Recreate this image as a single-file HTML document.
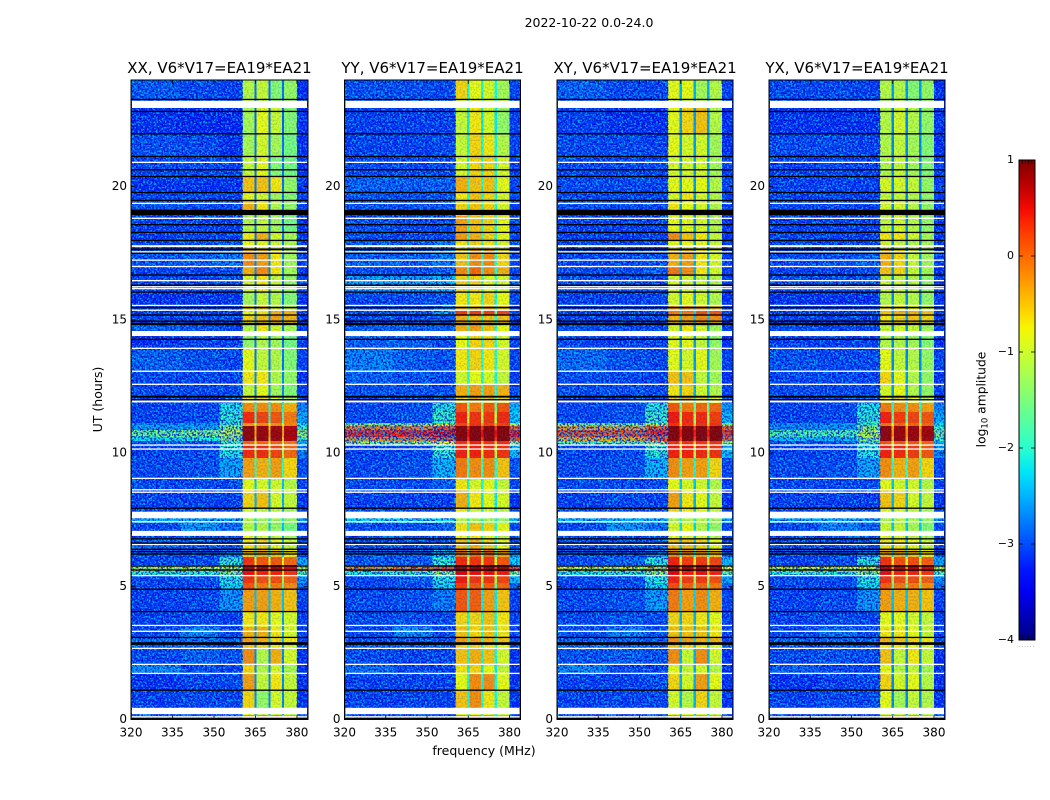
<!DOCTYPE html>
<html lang="en"><head><meta charset="utf-8"><title>2022-10-22 amplitude waterfall</title>
<style>
html,body{margin:0;padding:0;background:#fff;width:1050px;height:800px;overflow:hidden}
svg{display:block;font-family:"DejaVu Sans","Liberation Sans",sans-serif;fill:#000}
</style></head>
<body>
<svg id="fig" width="1050" height="800" viewBox="0 0 1050 800" xmlns="http://www.w3.org/2000/svg">
<defs>
<filter id="speckLight" x="0" y="0" width="100%" height="100%" color-interpolation-filters="sRGB">
<feTurbulence type="fractalNoise" baseFrequency="0.55" numOctaves="1" seed="7"/>
<feColorMatrix type="matrix" values="0 0 0 0 0  0 0 0 0 0.8  0 0 0 0 1  7 0 0 0 -3.3"/>
</filter>
<filter id="speckDark" x="0" y="0" width="100%" height="100%" color-interpolation-filters="sRGB">
<feTurbulence type="fractalNoise" baseFrequency="0.55" numOctaves="1" seed="23"/>
<feColorMatrix type="matrix" values="0 0 0 0 0  0 0 0 0 0  0 0 0 0 0.75  0 7 0 0 -3.3"/>
</filter>
<linearGradient id="jet-gradient" x1="0" y1="1" x2="0" y2="0"></linearGradient>
</defs>
<text x="589" y="27" font-size="12.5" text-anchor="middle">2022-10-22 0.0-24.0</text>
<text x="484" y="755" font-size="12.5" text-anchor="middle">frequency (MHz)</text>
<text x="0" y="0" font-size="12.5" text-anchor="middle" transform="translate(102,399.5) rotate(-90)">UT (hours)</text>
<text x="0" y="0" font-size="12.3" text-anchor="middle" transform="translate(985.5,399.5) rotate(-90)">log<tspan font-size="8.5" dy="2">10</tspan><tspan dy="-2"> amplitude</tspan></text>
</svg>
<script>
// Axis tick values
const freqTicks = [320, 335, 350, 365, 380];
const timeTicks = [0, 5, 10, 15, 20];
const colorTicks = [1, 0, -1, -2, -3, -4];
const panelTitles = ['XX, V6*V17=EA19*EA21', 'YY, V6*V17=EA19*EA21', 'XY, V6*V17=EA19*EA21', 'YX, V6*V17=EA19*EA21'];

// Frequency edges (MHz) of the heatmap columns
const freqEdges = [320, 338, 352, 360.4, 364.6, 365.4, 369.7, 370.5, 374.6, 375.4, 380, 384];

// Time edges (UT hours) of the heatmap rows, top to bottom
const timeEdges = [24, 23.25, 22.95, 22.01, 21.15, 20.39, 19.79, 19.49, 19.16, 18.89, 18.29, 17.99, 17.62, 17.02, 16.64, 16.04, 15.55, 15.37, 15.18, 14.92, 14.8, 14.58, 14.39, 13.94, 13.08, 12.59, 12.14, 11.88, 11.54, 11.13, 11.01, 10.86, 10.6, 10.45, 10.3, 9.81, 9.06, 8.61, 7.94, 7.56, 7.37, 7.07, 6.81, 6.4, 6.1, 5.8, 5.57, 5.38, 5.12, 4.9, 4.03, 3.47, 3.1, 2.8, 2.68, 2.08, 1.74, 1.11, 0.43, 0.17, 0];

// Flagged times: [start, end] in UT hours
const whiteFlags = [[23.22,22.95],[20.935,20.885],[19.395,19.345],[18.835,18.785],[17.8,17.73],[17.575,17.525],[17.265,17.215],[17.025,16.975],[16.495,16.445],[16.265,16.215],[16.195,16.145],[15.565,15.515],[15.385,15.335],[14.58,14.39],[13.955,13.905],[13.095,13.045],[12.605,12.555],[11.97,11.9],[10.325,10.275],[10.175,10.125],[9.075,9.025],[8.645,8.595],[8.555,8.505],[7.8,7.55],[7.445,7.395],[7.08,6.89],[6.595,6.545],[5.425,5.375],[3.555,3.505],[3.335,3.285],[2.695,2.645],[2.095,2.045],[1.755,1.705],[0.44,0.2],[0.125,0.075]];
const blackFlags = [[23.295,23.245],[22.845,22.795],[22.005,21.955],[21.155,21.105],[20.655,20.605],[20.405,20.355],[19.805,19.755],[19.505,19.455],[19.13,18.93],[18.595,18.545],[18.305,18.255],[18.005,17.955],[17.68,17.61],[17.525,17.475],[16.705,16.655],[16.325,16.275],[16.065,16.015],[15.49,15.43],[15.205,15.155],[14.975,14.925],[14.89,14.8],[14.295,14.245],[12.15,12.08],[12.025,11.975],[7.955,7.905],[6.805,6.755],[6.645,6.595],[6.415,6.365],[6.325,6.275],[6.235,6.185],[5.785,5.735],[5.635,5.585],[4.915,4.865],[4.075,4.025],[3.105,3.055],[2.9,2.8],[1.125,1.075],[0.06,0]];

// log10 amplitude per row: [bg 320-338, bg 338-352, shoulder 352-360, band1, band2, band3, band4, bg 380-384, band gaps]
const seriesXX = [
[-2.95,-3.05,-3.1,-1.1,-1,-1.4,-1.3,-3.2,-2.8],[-3.05,-3.05,-3.1,-1.1,-1,-1.3,-1.3,-3.2,-2.8],[-3.2,-3.25,-3.25,-1.2,-.8,-1,-1.4,-3.2,-2.9],[-3,-3.05,-3.2,-1.2,-.9,-1.2,-1.5,-3.2,-2.8],[-3.05,-3.05,-3.1,-1,-.8,-1.4,-1.5,-3.2,-2.8],[-3.2,-3.2,-3.2,-.5,-.5,-.7,-1.3,-3.2,-2.8],[-3.1,-3.05,-3.1,-.8,-.9,-1.2,-1.4,-3.1,-2.8],[-3,-3.05,-3.05,-.4,-.7,-1.1,-1.3,-3.1,-2.8],[-3.1,-3.1,-3.1,-1,-1,-1.1,-1.3,-3.1,-2.8],[-3.1,-3.1,-3.1,-1.1,-1,-1.2,-1.5,-3.2,-2.8],
[-3.1,-3.1,-3.1,-.7,-.4,-.9,-1.2,-3.2,-2.8],[-3.05,-3,-3,-.8,-.8,-1,-1.2,-3.1,-2.8],[-3,-2.9,-2.75,-.2,-.3,-.7,-1.2,-3.1,-2.7],[-3.1,-3.1,-3.05,-.4,-.2,-.7,-1.2,-3.2,-2.7],[-3.05,-3.05,-3,-.9,-.7,-1,-1.3,-3.1,-2.8],[-3.2,-3.2,-3.2,-1.2,-1,-1.1,-1.4,-3.2,-2.8],[-3.1,-3.1,-3.1,-.6,-.5,-.9,-1,-3.1,-2.7],[-3.1,-3.1,-3.1,-.8,-.7,-.4,-.4,-3.1,-2.7],[-3.1,-3.1,-3.05,-.6,-.5,-.3,-.4,-3.1,-2.7],[-3.1,-3.1,-3.05,-.7,-.5,-.5,-.6,-3.1,-2.7],
[-2.9,-3,-3.05,-1.1,-.7,-.9,-1.2,-3.1,-2.8],[-3,-3,-3.05,-1.1,-.8,-1,-1.2,-3.1,-2.8],[-3.2,-3.1,-3.1,-1.3,-1.1,-1.2,-1.5,-3.2,-2.8],[-2.9,-3,-3.05,-.8,-1,-1.1,-1.4,-3.1,-2.8],[-3.05,-3.05,-3.1,-.7,-.7,-1.1,-1.3,-3.2,-2.7],[-3.05,-3.05,-3.05,-1,-.8,-1.2,-1.4,-3.1,-2.7],[-3.05,-3,-2.9,-.7,-.6,-.9,-1.1,-3.1,-2.6],[-3.1,-3.05,-2.1,-.2,-.2,-.2,-.4,-2.7,-2.1],[-3.1,-3.05,-1.9,.35,.2,.1,-.1,-2.5,-1.8],[-2.6,-2.6,-1.7,-.3,-.2,-.2,-.2,-2.2,-1],
[-2.6,-2.5,-1.3,.9,.85,.8,.75,-1.9,-.5],[-1.5,-1.4,-1,.9,.85,.85,.8,-1.3,-.3],[-2.2,-2.1,-1.2,.9,.85,.8,.75,-1.8,-.5],[-3,-3,-1.9,0,0,0,-.1,-2.5,-1],[-3.1,-3.05,-2,.35,.35,.2,0,-2.7,-1.2],[-3.05,-3,-2.5,-.3,-.4,-.3,-.6,-3.05,-1.9],[-3.05,-3.05,-3.05,-.8,-.9,-.9,-1.1,-3.1,-2.4],[-3.1,-3.1,-3.1,-.6,-.5,-.9,-1,-3.2,-2.5],[-3.1,-3.1,-3.1,-.9,-1,-1,-1.2,-3.1,-2.5],[-2.45,-2.45,-2.55,-1.1,-1.2,-1.2,-1.3,-2.6,-2.2],
[-3.05,-2.55,-2.8,-1.1,-1.1,-1.3,-1.5,-3.05,-2.4],[-3.05,-3,-3,-.8,-.9,-1,-1.2,-3.1,-2.5],[-2.9,-3,-3,-.7,-.6,-.8,-1,-3.05,-2.5],[-3,-3,-2.75,-.5,-.4,-.5,-.7,-3.05,-2.3],[-3.1,-3.05,-1.9,.3,.1,.1,0,-2.5,-.8],[-1,-1,-.9,.85,.85,.85,.6,-1,-.2],[-1.9,-1.9,-1.3,.5,.4,.4,.3,-1.7,-.6],[-3.05,-3,-2,.3,.15,.15,.05,-2.6,-1.2],[-3.1,-3.1,-2.2,.1,-.1,-.1,-.2,-2.9,-1.6],[-3.1,-3.05,-2.6,-.3,-.3,-.4,-.5,-3.1,-2.4],
[-3.1,-3.05,-3.1,-.7,-.7,-.8,-.9,-3.1,-2.6],[-3.05,-2.65,-3.05,-.4,-.4,-.7,-.9,-3.1,-2.6],[-2.8,-2.8,-2.9,-.3,-.4,-.6,-.7,-3.05,-2.4],[-2.9,-2.9,-3,-.5,-.6,-.7,-.9,-3.05,-2.6],[-3.05,-2.9,-3,-.2,-1.1,-.4,-.9,-3.2,-2.7],[-2.65,-3.05,-3.1,-.6,-1.1,-.9,-1.2,-3.2,-2.7],[-3.2,-3.1,-3.05,-.3,-1,-.7,-1,-3.2,-2.7],[-3.1,-3.05,-3.05,-.6,-1.3,-.9,-1,-3.2,-2.7],[-3.1,-3.1,-3.1,-.8,-1,-1,-1,-3.1,-2.7],[-2.8,-2.8,-2.8,-.2,-.2,-.2,-.4,-3,-2]
];
const seriesYY = [
[-3,-3,-3.05,-.6,-.8,-.9,-1.2,-3.1,-2.1],[-3,-3,-3.05,-.9,-.8,-.9,-1.1,-3.1,-2.1],[-3.1,-3.1,-3.1,-1,-.7,-.9,-1.3,-3.1,-2.2],[-3.1,-3.1,-3.05,-1,-.6,-.7,-1.1,-3.1,-2.1],[-3.05,-3.05,-3.05,-.9,-.6,-.6,-.9,-3.1,-2.1],[-2.9,-2.9,-2.9,-.4,-.5,-.5,-.8,-3.1,-2],[-3,-3,-3,-.7,-.5,-.6,-.9,-3.1,-2.1],[-3,-3,-3,-.6,-.5,-.6,-.9,-3.1,-2],[-3.05,-3.05,-3.05,-.8,-.7,-.8,-1,-3.1,-2.1],[-3,-3.05,-3.05,-.3,-.5,-.6,-.8,-3.1,-2],
[-3.05,-3.05,-3.05,-.3,-.4,-.6,-.8,-3.1,-2],[-2.9,-2.9,-2.75,-.7,-.6,-.7,-.9,-3.05,-2],[-2.9,-2.9,-2.75,-.5,-.2,-.2,-.6,-3.05,-2],[-3.05,-3.05,-2.9,-.2,0,-.2,-.4,-3.1,-2],[-2.55,-2.55,-2.4,-.6,-.6,-.8,-.9,-2.9,-1.9],[-3.05,-3.05,-3.05,-.7,-.7,-.6,-.8,-3.1,-2.1],[-3,-3,-2.75,-.5,-.5,-.4,-.6,-3.1,-2],[-3.05,-3,-2.55,.25,.25,.25,.2,-3,-1.6],[-3.05,-3.05,-2.9,-.4,-.5,-.5,-.5,-3.1,-2],[-3.05,-3.05,-2.9,-.4,-.4,-.4,-.5,-3.1,-2],
[-2.9,-2.9,-2.9,-.4,-.3,-.5,-.8,-3.05,-2],[-2.9,-2.9,-2.9,-.5,-.5,-.6,-.8,-3.1,-2],[-2.9,-2.9,-3.05,-.8,-.6,-.6,-.9,-3.1,-2],[-2.7,-2.9,-3,-.7,-.6,-.7,-.9,-3.1,-2],[-2.9,-3,-3.05,-.9,-.8,-.9,-1,-3.1,-2.1],[-3,-3,-3,-.4,-.3,-.3,-.4,-3.05,-2],[-3.05,-3,-2.75,-.6,-.4,-.5,-.6,-2.9,-1.8],[-3.05,-3,-2,.1,-.1,.1,.1,-2.4,-1.4],[-3.05,-3,-1.8,.4,.3,.3,.35,-2.3,-1],[-1.3,-1.3,-.8,.2,.3,.2,.2,-1,-.4],
[-.1,-.1,.2,.95,.95,.95,.95,.1,.3],[.4,.4,.6,.95,.95,.95,.95,.5,.5],[-.2,-.1,.2,.95,.95,.95,.95,.2,.3],[-1.3,-1.3,-.8,.3,.4,.3,.3,-1.2,-.5],[-3.1,-3.05,-1.9,.4,.4,.35,.3,-2.4,-1],[-3.05,-3,-2.4,-.1,-.2,-.2,-.5,-3,-1.9],[-3.05,-3.05,-2.9,-.7,-.9,-.8,-1,-3.1,-2.1],[-3.1,-3.1,-3.1,-.4,-.7,-.8,-.9,-3.2,-2.2],[-3.05,-3.05,-3.05,-.7,-.9,-.9,-1.1,-3.1,-2.2],[-2.2,-2.2,-2.2,-1.1,-1.2,-1.2,-1.3,-2.4,-2],
[-3.05,-3,-2.9,-.7,-.5,-.6,-.8,-3.05,-2.1],[-3.05,-3.05,-3.05,-.8,-.7,-.8,-1,-3.1,-2.1],[-3,-3,-2.9,-.5,-.4,-.6,-.8,-3.05,-2],[-2.9,-2.9,-2.3,-.1,0,0,-.3,-2.6,-1.7],[-3,-2.9,-1.9,.35,.3,.3,.1,-2.3,-.9],[-.2,-.1,.2,.95,.95,.95,.9,.25,.3],[-2,-1.9,-1.2,.6,.5,.5,.45,-1.5,-.4],[-3.05,-2.9,-2,.45,.3,.3,.2,-2.4,-1.1],[-3.1,-3.05,-2.2,.25,.1,.05,0,-2.9,-1.7],[-3.05,-3,-2.75,.1,.05,-.3,-.5,-3.1,-2.2],
[-3.05,-3,-3.05,-.6,-.6,-.5,-.7,-3.1,-2.1],[-3.05,-2.65,-3.05,-.5,-.6,-.5,-.7,-3.1,-2.1],[-3,-3,-3,-.3,-.3,-.4,-.5,-3.05,-2],[-2.9,-2.9,-3,-.6,-.6,-.7,-.8,-3.1,-2.1],[-3.05,-3.05,-3.05,-.5,-.4,-.5,-.9,-3.2,-2.1],[-2.8,-3.05,-3.1,-.7,-.6,-.8,-1,-3.2,-2.2],[-3.1,-3.1,-3.1,-.8,-.2,-.2,-.8,-3.2,-2.1],[-3.1,-3.1,-3.1,-.5,-.2,-.7,-1,-3.2,-2.1],[-3.1,-3.1,-3.1,-.8,-.8,-.8,-.9,-3.1,-2.1],[-2.9,-2.9,-2.9,-.2,-.2,-.3,-.4,-3.05,-2]
];
const seriesXY = [
[-2.9,-3.05,-3.05,-.8,-.8,-1.2,-1.1,-3.1,-2.5],[-3,-3.05,-3.05,-1,-1,-1.2,-1.1,-3.1,-2.5],[-3.1,-3.2,-3.2,-.8,-.6,-.5,-1.1,-3.2,-2.6],[-3.05,-3.05,-3.1,-.8,-.9,-.9,-1.2,-3.2,-2.6],[-3.05,-3.05,-3.05,-.9,-.9,-.9,-1.2,-3.1,-2.6],[-3.05,-3.05,-3.1,-.8,-.8,-.8,-1.1,-3.1,-2.6],[-3.05,-3.05,-3.1,-.9,-.7,-.9,-1.1,-3.1,-2.6],[-3,-3.05,-3.05,-.7,-.8,-.9,-1.1,-3.1,-2.6],[-3.1,-3.1,-3.1,-.9,-.9,-1,-1.2,-3.1,-2.6],[-3.1,-3.1,-3.1,-.8,-.8,-.9,-1.1,-3.2,-2.6],
[-3.1,-3.1,-3.1,-.2,-.5,-.7,-1,-3.2,-2.6],[-3.05,-3.05,-3.05,-.8,-.8,-.8,-1,-3.1,-2.6],[-3.1,-3.05,-3,-.4,-.3,-.7,-.9,-3.1,-2.5],[-3.05,-3.05,-2.9,-.1,-.2,-.7,-.9,-3.1,-2.5],[-3,-3,-3,-.9,-.9,-1,-1.1,-3.1,-2.6],[-3.1,-3.1,-3.1,-.9,-.8,-.9,-1.1,-3.2,-2.6],[-3.1,-3.1,-3.1,-.3,-.2,-.3,-.5,-3.1,-2.4],[-3.1,-3.1,-3.05,-.1,-.1,.1,.1,-3.05,-2.3],[-3.1,-3.1,-3.1,-.4,-.3,-.2,-.2,-3.1,-2.4],[-3.1,-3.1,-3.05,-.5,-.4,-.4,-.5,-3.1,-2.4],
[-3,-3.05,-3.05,-.9,-.7,-.9,-1.2,-3.1,-2.6],[-3,-3.05,-3.05,-.9,-.8,-1,-1.2,-3.1,-2.6],[-3.05,-3.1,-3.1,-.8,-.8,-1,-1.3,-3.2,-2.6],[-2.8,-3,-3.05,-.8,-.9,-.8,-1.2,-3.1,-2.6],[-3,-3.05,-3.1,-.5,-.5,-1,-1.2,-3.2,-2.5],[-3,-3,-3.05,-.7,-.6,-.9,-1.1,-3.1,-2.5],[-3.05,-3.05,-2.9,-.6,-.4,-.6,-.8,-3,-2.2],[-3.05,-3,-2,.1,-.1,0,0,-2.6,-1.6],[-3.05,-3,-1.8,.45,.35,.35,.25,-2.4,-1.2],[-1.4,-1.3,-.9,.3,.3,.3,.3,-1.2,-.6],
[-.3,-.3,.1,.95,.95,.95,.95,.05,.2],[.15,.15,.4,.95,.95,.95,.95,.35,.45],[-.4,-.4,.1,.95,.95,.95,.95,.05,.2],[-1.6,-1.6,-1,.3,.3,.3,.3,-1.4,-.6],[-3.1,-3.05,-1.9,.4,.4,.35,.3,-2.4,-1.1],[-3.05,-3,-2.4,-.2,-.3,-.3,-.6,-3.05,-2],[-3.05,-3.05,-3,-.8,-.9,-.9,-1.1,-3.1,-2.4],[-3.1,-3.05,-3.1,-.3,-.7,-.8,-1,-3.2,-2.5],[-3.05,-3.05,-3.1,-.6,-.7,-.8,-1,-3.1,-2.4],[-2.4,-2.4,-2.4,-1.1,-1.1,-1.1,-1.2,-2.5,-2.1],
[-3.05,-2.55,-2.8,-.9,-.8,-1.1,-1.3,-3.05,-2.3],[-3.05,-3.05,-3.05,-.8,-.8,-.9,-1.1,-3.1,-2.4],[-3,-3,-3,-.5,-.5,-.6,-.8,-3.05,-2.4],[-3,-3,-2.65,-.2,-.2,-.3,-.5,-3,-2.1],[-3.05,-2.9,-1.9,.4,.25,.25,.2,-2.4,-.9],[-.8,-.8,-.6,.9,.9,.9,.8,-.8,-.1],[-2,-1.9,-1.2,.55,.45,.5,.4,-1.6,-.5],[-3.05,-3,-2,.4,.25,.25,.15,-2.5,-1.2],[-3.1,-3.05,-2.2,.15,0,0,-.1,-2.9,-1.7],[-3.05,-3,-2.55,-.1,-.3,-.2,-.4,-3.1,-2.3],
[-3.05,-3,-3.05,-.6,-.6,-.7,-.8,-3.1,-2.5],[-3.05,-2.7,-3,-.5,-.5,-.5,-.7,-3.1,-2.4],[-2.9,-2.9,-2.9,-.2,-.3,-.4,-.4,-3.05,-2.3],[-2.9,-2.9,-3,-.5,-.6,-.7,-.8,-3.05,-2.4],[-3,-2.9,-3,-.2,-1,-.2,-.9,-3.2,-2.5],[-2.65,-3.05,-3.1,-.8,-1,-.9,-1.1,-3.2,-2.5],[-3.1,-3.1,-3.05,-.6,-.9,-.3,-.8,-3.2,-2.5],[-3.1,-3.05,-3.05,-.9,-1.1,-.6,-1,-3.2,-2.5],[-3.1,-3.1,-3.1,-.8,-.9,-.9,-1,-3.1,-2.5],[-2.8,-2.8,-2.8,-.2,-.3,-.3,-.4,-3,-2]
];
const seriesYX = [
[-3.05,-3.05,-3.1,-1.1,-1.1,-1.4,-1.3,-3.2,-2.6],[-3.05,-3.05,-3.1,-1.1,-1.1,-1.4,-1.3,-3.2,-2.6],[-3.2,-3.2,-3.2,-1.1,-.9,-1.1,-1.3,-3.2,-2.7],[-3.05,-3.05,-3.1,-1.1,-1,-1.2,-1.4,-3.2,-2.7],[-3.1,-3.05,-3.1,-1.1,-1,-1.2,-1.4,-3.1,-2.7],[-3.1,-3.1,-3.1,-.9,-.9,-1,-1.3,-3.1,-2.7],[-3.1,-3.1,-3.1,-1,-1,-1.1,-1.3,-3.1,-2.7],[-3.05,-3.05,-3.1,-.9,-.9,-1.1,-1.3,-3.1,-2.7],[-3.1,-3.1,-3.1,-1,-1,-1.1,-1.3,-3.1,-2.7],[-3.1,-3.1,-3.1,-1,-.9,-1.1,-1.3,-3.2,-2.7],
[-3.1,-3.1,-3.1,-.7,-.7,-.9,-1.2,-3.2,-2.7],[-3.05,-3.05,-3.05,-.9,-1,-1.1,-1.2,-3.1,-2.7],[-3.05,-3,-2.9,-.4,-.6,-1,-1.2,-3.1,-2.6],[-3.1,-3.1,-3.05,-.5,-.6,-1,-1.2,-3.2,-2.6],[-3.05,-3.05,-3,-1,-1,-1.1,-1.3,-3.1,-2.7],[-3.2,-3.2,-3.2,-1.1,-1,-1.1,-1.3,-3.2,-2.7],[-3.1,-3.1,-3.1,-.7,-.7,-.8,-1,-3.1,-2.6],[-3.1,-3.1,-3.05,-.5,-.4,-.4,-.5,-3.1,-2.5],[-3.1,-3.1,-3.1,-.7,-.6,-.5,-.6,-3.1,-2.6],[-3.1,-3.1,-3.05,-.7,-.6,-.6,-.7,-3.1,-2.6],
[-3,-3.05,-3.05,-1,-.9,-1,-1.2,-3.1,-2.7],[-3,-3.05,-3.05,-1,-.9,-1,-1.2,-3.1,-2.7],[-3.1,-3.1,-3.1,-1.1,-1.1,-1.2,-1.4,-3.2,-2.7],[-3,-3.05,-3.05,-.8,-1,-1.1,-1.3,-3.1,-2.7],[-3.05,-3.05,-3.1,-.6,-.8,-1.1,-1.3,-3.2,-2.6],[-3.05,-3.05,-3.05,-.9,-.8,-1.1,-1.3,-3.1,-2.6],[-3.05,-3,-2.9,-.7,-.6,-.8,-1,-3.05,-2.4],[-3.1,-3.05,-2.1,-.1,-.2,-.2,-.3,-2.7,-2],[-3.1,-3.05,-1.9,.4,.25,.2,.1,-2.5,-1.6],[-2.7,-2.6,-1.7,-.1,0,0,0,-2.2,-.9],
[-2.7,-2.6,-1.3,.9,.85,.85,.8,-1.9,-.4],[-1.7,-1.7,-1.1,.9,.85,.85,.85,-1.5,-.2],[-2.4,-2.4,-1.3,.9,.85,.85,.8,-1.9,-.4],[-3,-3,-1.9,.1,.1,.1,0,-2.5,-1],[-3.1,-3.05,-2,.4,.35,.25,.1,-2.7,-1.2],[-3.05,-3,-2.5,-.2,-.4,-.3,-.6,-3.05,-1.9],[-3.05,-3.05,-3.05,-.8,-.9,-.9,-1.1,-3.1,-2.4],[-3.1,-3.1,-3.1,-.5,-.6,-.9,-1,-3.2,-2.5],[-3.1,-3.1,-3.1,-.8,-.9,-1,-1.2,-3.1,-2.5],[-2.45,-2.45,-2.55,-1.1,-1.1,-1.2,-1.3,-2.6,-2.2],
[-3.05,-2.7,-2.9,-1,-1,-1.2,-1.4,-3.05,-2.4],[-3.05,-3.05,-3.05,-.8,-.9,-1,-1.2,-3.1,-2.5],[-3,-3,-3,-.7,-.7,-.8,-1,-3.05,-2.5],[-3,-3,-2.75,-.4,-.4,-.5,-.7,-3.05,-2.3],[-3.1,-3.05,-1.9,.3,.15,.15,.05,-2.5,-.9],[-.9,-.9,-.8,.8,.8,.8,.65,-.9,-.2],[-1.9,-1.9,-1.3,.5,.4,.4,.3,-1.7,-.6],[-3.05,-3,-2,.3,.15,.15,.05,-2.6,-1.2],[-3.1,-3.1,-2.2,.05,-.1,-.1,-.2,-2.9,-1.7],[-3.1,-3.05,-2.6,-.3,-.4,-.4,-.5,-3.1,-2.4],
[-3.1,-3.05,-3.1,-.8,-.8,-.9,-1,-3.1,-2.6],[-3.05,-2.8,-3.05,-.7,-.7,-.8,-1,-3.1,-2.6],[-2.9,-2.9,-2.9,-.4,-.5,-.6,-.7,-3.05,-2.4],[-3,-3,-3,-.7,-.7,-.8,-.9,-3.05,-2.6],[-3.05,-3,-3,-.5,-1,-.7,-1,-3.2,-2.7],[-2.9,-3.05,-3.1,-.8,-1.1,-1,-1.2,-3.2,-2.7],[-3.2,-3.1,-3.05,-.6,-.9,-.8,-1.1,-3.2,-2.7],[-3.1,-3.05,-3.05,-.8,-1.2,-1,-1.1,-3.2,-2.7],[-3.1,-3.1,-3.1,-.9,-1,-1,-1.1,-3.1,-2.7],[-2.9,-2.9,-2.9,-.3,-.3,-.3,-.5,-3,-2.1]
];
const panelSeries = [seriesXX, seriesYY, seriesXY, seriesYX];

// Layout only below this line
const SVGNS = 'http://www.w3.org/2000/svg';
const fig = document.getElementById('fig');
const panelBoxes = [{l:131,r:308},{l:344.5,r:520.5},{l:557,r:733},{l:769,r:945}];
const plotTop = 80, plotBottom = 719.5;
const timeToY = h => plotBottom - (h / 24) * (plotBottom - plotTop);
const freqToX = (f, box) => box.l + (f - 320) / 64 * (box.r - box.l);
const columnPick = [0, 1, 2, 3, 8, 4, 8, 5, 8, 6, 7];

function jet(v) {
  const t = Math.max(0, Math.min(1, (v + 4) / 5));
  const lerp = (pts) => {
    for (let i = 1; i < pts.length; i++) {
      if (t <= pts[i][0]) {
        const a = pts[i - 1], b = pts[i];
        return a[1] + (b[1] - a[1]) * (t - a[0]) / (b[0] - a[0]);
      }
    }
    return pts[pts.length - 1][1];
  };
  const r = lerp([[0,0],[.35,0],[.66,1],[.89,1],[1,.5]]);
  const g = lerp([[0,0],[.125,0],[.375,1],[.64,1],[.91,0],[1,0]]);
  const b = lerp([[0,.5],[.11,1],[.34,1],[.65,0],[1,0]]);
  return 'rgb(' + Math.round(r * 255) + ',' + Math.round(g * 255) + ',' + Math.round(b * 255) + ')';
}
function mk(tag, attrs, parent) {
  const el = document.createElementNS(SVGNS, tag);
  for (const k in attrs) el.setAttribute(k, attrs[k]);
  (parent || fig).appendChild(el);
  return el;
}

panelSeries.forEach((rows, p) => {
  const box = panelBoxes[p];
  const g = mk('g', {});
  
  

  rows.forEach((row, r) => {
    const y0 = timeToY(timeEdges[r]), y1 = timeToY(timeEdges[r + 1]);
    columnPick.forEach((valueIndex, c) => {
      const x0 = freqToX(freqEdges[c], box), x1 = freqToX(freqEdges[c + 1], box);
      const cell = mk('rect', {x: x0, y: y0, width: x1 - x0, height: y1 - y0, fill: jet(row[valueIndex]), 'shape-rendering': 'crispEdges'}, g);
      
      
    });
  });

  // fine-grain visual texture (decorative, carries no data)
  [[320, 360.4, 0.75], [380, 384, 0.6], [360.4, 380, 0.12]].forEach(range => {
    const x0 = freqToX(range[0], box), x1 = freqToX(range[1], box);
    ['url(#speckLight)', 'url(#speckDark)'].forEach(flt => {
      const tex = mk('rect', {x: x0, y: plotTop, width: x1 - x0, height: plotBottom - plotTop, filter: flt, opacity: range[2]}, g);
      
      
    });
  });

  whiteFlags.forEach(f => {
    const band = mk('rect', {x: box.l + 1, y: timeToY(f[0]), width: box.r - box.l - 2, height: timeToY(f[1]) - timeToY(f[0]), fill: '#fff'}, g);
    
    
  });
  blackFlags.forEach(f => {
    const band = mk('rect', {x: box.l, y: timeToY(f[0]), width: box.r - box.l, height: timeToY(f[1]) - timeToY(f[0]), fill: '#000'}, g);
    
    
  });

  const frame = mk('rect', {x: box.l, y: plotTop, width: box.r - box.l, height: plotBottom - plotTop, fill: 'none', stroke: '#000', 'stroke-width': 1}, g);
  
  

  freqTicks.forEach(f => {
    const x = freqToX(f, box);
    const tickA = mk('line', {x1: x, x2: x, y1: plotBottom, y2: plotBottom - 4, stroke: '#000', 'stroke-width': .8}, g);
    
    
    const tickB = mk('line', {x1: x, x2: x, y1: plotTop, y2: plotTop + 4, stroke: '#000', 'stroke-width': .8}, g);
    
    
    const label = mk('text', {x: x, y: plotBottom + 17, 'font-size': 12, 'text-anchor': 'middle'}, g);
    
    
    label.textContent = f;
  });
  timeTicks.forEach(h => {
    const y = timeToY(h);
    const tickA = mk('line', {x1: box.l, x2: box.l + 4, y1: y, y2: y, stroke: '#000', 'stroke-width': .8}, g);
    
    
    const tickB = mk('line', {x1: box.r, x2: box.r - 4, y1: y, y2: y, stroke: '#000', 'stroke-width': .8}, g);
    
    
    const label = mk('text', {x: box.l - 4, y: y + 3.5, 'font-size': 12, 'text-anchor': 'end'}, g);
    
    
    label.textContent = h;
  });

  const title = mk('text', {x: (box.l + box.r) / 2, y: 73, 'font-size': 15, 'text-anchor': 'middle'}, g);
  
  
  title.textContent = panelTitles[p];
});

// Colorbar
const grad = document.getElementById('jet-gradient');
for (let i = 0; i <= 20; i++) {
  mk('stop', {offset: i / 20, 'stop-color': jet(-4 + 5 * i / 20)}, grad);
}
const cbar = {l: 1019, r: 1035, t: 160, b: 640};
const valueToY = v => cbar.b - (v + 4) / 5 * (cbar.b - cbar.t);
const cbarGroup = mk('g', {});


const cbarRect = mk('rect', {x: cbar.l, y: cbar.t, width: cbar.r - cbar.l, height: cbar.b - cbar.t, fill: 'url(#jet-gradient)', stroke: '#000', 'stroke-width': 1}, cbarGroup);


colorTicks.forEach(v => {
  const y = valueToY(v);
  const tickL = mk('line', {x1: cbar.l, x2: cbar.l + 4, y1: y, y2: y, stroke: '#000', 'stroke-width': .8}, cbarGroup);
  
  
  const tickR = mk('line', {x1: cbar.r, x2: cbar.r - 4, y1: y, y2: y, stroke: '#000', 'stroke-width': .8}, cbarGroup);
  
  
  const label = mk('text', {x: cbar.l - 5, y: y + 3, 'font-size': 11, 'text-anchor': 'end'}, cbarGroup);
  
  
  label.textContent = v < 0 ? '\u2212' + Math.abs(v) : String(v);
});
for (let i = 0; i <= 5; i++) {
  const x = cbar.l + (cbar.r - cbar.l) * i / 5;
  const topTick = mk('line', {x1: x, x2: x, y1: cbar.t, y2: cbar.t + 4, stroke: '#000', 'stroke-width': .8}, cbarGroup);
  
  
  const botTick = mk('line', {x1: x, x2: x, y1: cbar.b, y2: cbar.b - 4, stroke: '#000', 'stroke-width': .8}, cbarGroup);
  
  
}
const dots = mk('text', {x: (cbar.l + cbar.r) / 2, y: 647, 'font-size': 5, 'text-anchor': 'middle', fill: '#555', 'letter-spacing': '1.2'}, cbarGroup);


dots.textContent = '......';
</script>
</body></html>
